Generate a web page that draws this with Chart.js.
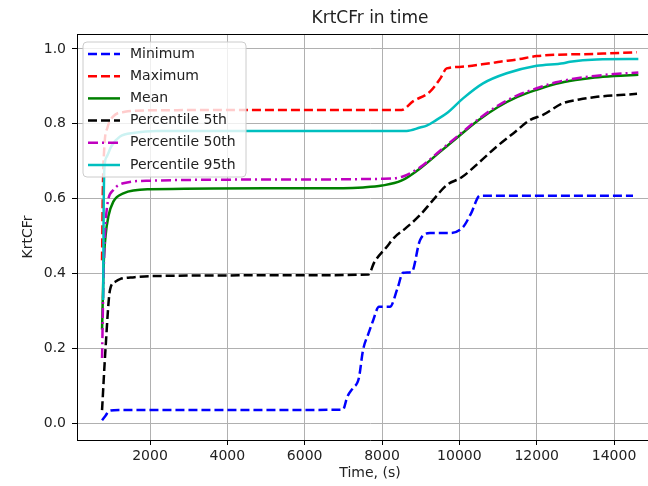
<!DOCTYPE html>
<html><head><meta charset="utf-8">
<script src="https://cdn.jsdelivr.net/npm/chart.js@4.4.1/dist/chart.umd.min.js"></script>
<style>
html,body{margin:0;padding:0;background:#fff;overflow:hidden}
#wrap{width:648px;height:486px;overflow:hidden;position:relative;background:#fff}
canvas{display:block}
</style></head><body>
<div id="wrap"><canvas id="c" width="670" height="486"></canvas></div>
<script>
// ---- data ----
const seriesNames = ['Minimum', 'Maximum', 'Mean', 'Percentile 5th', 'Percentile 50th', 'Percentile 95th'];

const minT = [760, 850, 950, 1200, 3000, 5000, 6990, 7100, 7242, 7400, 7508, 7650, 7758, 7922, 8206, 8400, 8543, 8767, 8982, 9241, 9758, 10095, 10300, 10534, 12000, 14490];
const minV = [0.008, 0.02, 0.033, 0.035, 0.035, 0.035, 0.036, 0.07, 0.093, 0.12, 0.195, 0.24, 0.271, 0.311, 0.311, 0.36, 0.402, 0.404, 0.489, 0.508, 0.508, 0.524, 0.56, 0.608, 0.608, 0.608];

const maxT = [760, 780, 820, 900, 1050, 1350, 2000, 5000, 8508, 8800, 9241, 9500, 9672, 10000, 10792, 11051, 11500, 12000, 13551, 14586];
const maxV = [0.435, 0.62, 0.74, 0.79, 0.82, 0.832, 0.836, 0.837, 0.837, 0.86, 0.886, 0.92, 0.948, 0.952, 0.962, 0.966, 0.972, 0.981, 0.987, 0.991];

const meanT = [760, 800, 850, 922, 1051, 1310, 2000, 5000, 7000, 7508, 8000, 8500, 9000, 9500, 10000, 10500, 11000, 11500, 12000, 12500, 13000, 13500, 14000, 14628];
const meanV = [0.25, 0.42, 0.50, 0.552, 0.592, 0.614, 0.625, 0.628, 0.628, 0.630, 0.635, 0.648, 0.682, 0.725, 0.768, 0.81, 0.845, 0.872, 0.891, 0.907, 0.917, 0.924, 0.928, 0.931];

const p5T = [760, 850, 965, 1100, 1224, 1600, 2000, 5000, 7646, 7800, 8120, 8336, 8600, 8982, 9318, 9670, 10060, 10534, 10965, 11400, 11827, 12163, 12680, 13100, 13560, 14594];
const p5V = [0.035, 0.20, 0.356, 0.378, 0.385, 0.390, 0.393, 0.395, 0.397, 0.43, 0.471, 0.498, 0.52, 0.556, 0.596, 0.636, 0.657, 0.699, 0.739, 0.775, 0.810, 0.824, 0.855, 0.865, 0.872, 0.880];

const p50T = [760, 800, 880, 1051, 1310, 2000, 5000, 8000, 8500, 9000, 9500, 10000, 10500, 11000, 11500, 12000, 12500, 13000, 13500, 14000, 14628];
const p50V = [0.174, 0.40, 0.57, 0.623, 0.641, 0.648, 0.651, 0.653, 0.658, 0.685, 0.728, 0.771, 0.813, 0.849, 0.876, 0.895, 0.911, 0.921, 0.928, 0.933, 0.937];

const p95T = [790, 800, 820, 880, 1000, 1224, 1600, 2172, 5000, 8637, 8982, 9154, 9400, 9672, 10095, 10612, 11224, 12000, 12689, 12862, 13551, 14628];
const p95V = [0.329, 0.55, 0.68, 0.712, 0.74, 0.766, 0.776, 0.781, 0.781, 0.781, 0.79, 0.795, 0.81, 0.828, 0.868, 0.908, 0.935, 0.955, 0.962, 0.966, 0.972, 0.973];

const xTickValues = [2000, 4000, 6000, 8000, 10000, 12000, 14000];
const xTickLabels = ['2000', '4000', '6000', '8000', '10000', '12000', '14000'];
const yTickValues = [0.0, 0.2, 0.4, 0.6, 0.8, 1.0];
const yTickLabels = ['0.0', '0.2', '0.4', '0.6', '0.8', '1.0'];

// ---- styles ----
const seriesTimes = [minT, maxT, meanT, p5T, p50T, p95T];
const seriesValues = [minV, maxV, meanV, p5V, p50V, p95V];
const colors = ['#0000ff', '#ff0000', '#008000', '#000000', '#bf00bf', '#00bfbf'];
const dashes = [[9, 4], [9, 4], [], [9, 4], [10, 4, 2, 4], []];
const LW = 2.5;
const FONT = 'DejaVu Sans';

const datasets = seriesNames.map((name, i) => ({
  label: name,
  data: seriesTimes[i].map((t, k) => ({x: t, y: seriesValues[i][k]})),
  borderColor: colors[i],
  backgroundColor: colors[i],
  borderWidth: LW,
  borderDash: dashes[i],
  borderCapStyle: 'butt',
  borderJoinStyle: 'round',
  pointRadius: 0,
  fill: false,
  cubicInterpolationMode: 'monotone',
  order: seriesNames.length - i
}));

const mplLegend = {
  id: 'mplLegend',
  afterDatasetsDraw(chart) {
    const ctx = chart.ctx, a = chart.chartArea;
    ctx.save();
    // top spine
    ctx.strokeStyle = '#000'; ctx.lineWidth = 1; ctx.setLineDash([]);
    ctx.beginPath(); ctx.moveTo(a.left, a.top + 0.5); ctx.lineTo(a.right, a.top + 0.5); ctx.stroke();
    // legend box
    const bx = a.left + 6, by = a.top + 8, bw = 163, bh = 135, r = 4;
    ctx.beginPath();
    ctx.moveTo(bx + r, by);
    ctx.arcTo(bx + bw, by, bx + bw, by + bh, r);
    ctx.arcTo(bx + bw, by + bh, bx, by + bh, r);
    ctx.arcTo(bx, by + bh, bx, by, r);
    ctx.arcTo(bx, by, bx + bw, by, r);
    ctx.closePath();
    ctx.fillStyle = 'rgba(255,255,255,0.8)';
    ctx.fill();
    ctx.strokeStyle = '#cccccc'; ctx.lineWidth = 1;
    ctx.stroke();
    ctx.font = '14px "' + FONT + '"';
    ctx.textBaseline = 'middle';
    chart.data.datasets.forEach((ds, i) => {
      const yy = by + 12 + i * 22.2;
      ctx.strokeStyle = ds.borderColor;
      ctx.lineWidth = LW;
      ctx.lineCap = 'butt';
      ctx.setLineDash(ds.borderDash || []);
      ctx.beginPath(); ctx.moveTo(bx + 5, yy); ctx.lineTo(bx + 37, yy); ctx.stroke();
      ctx.setLineDash([]);
      ctx.fillStyle = '#222';
      ctx.fillText(ds.label, bx + 47, yy);
    });
    ctx.restore();
  }
};

new Chart(document.getElementById('c'), {
  type: 'line',
  data: {datasets},
  plugins: [mplLegend],
  options: {
    responsive: false,
    animation: false,
    devicePixelRatio: 1,
    layout: {padding: {left: 0, right: 7, top: 0, bottom: 0}},
    plugins: {
      legend: {display: false},
      tooltip: {enabled: false},
      title: {
        display: true, text: 'KrtCFr in time', fullSize: false,
        color: '#222', font: {family: FONT, size: 17, weight: 'normal'},
        padding: {top: 8, bottom: 5.6}
      }
    },
    scales: {
      x: {
        type: 'linear', min: 112, max: 15266,
        afterBuildTicks: s => { s.ticks = xTickValues.map(v => ({value: v})); },
        afterFit: s => { s.height = 46; },
        grid: {color: '#b0b0b0', lineWidth: 1, drawTicks: true, tickLength: 5, tickColor: '#000', tickWidth: 1},
        border: {display: true, color: '#000', width: 1},
        ticks: {
          color: '#222', font: {family: FONT, size: 14}, padding: 3, maxRotation: 0, autoSkip: false,
          callback: (v) => { const k = xTickValues.indexOf(v); return k >= 0 ? xTickLabels[k] : ''; }
        },
        title: {display: true, text: 'Time, (s)', color: '#222', font: {family: FONT, size: 14}, padding: {top: 2, bottom: 4}}
      },
      y: {
        type: 'linear', min: -0.045, max: 1.040,
        afterBuildTicks: s => { s.ticks = yTickValues.map(v => ({value: v})); },
        afterFit: s => { s.width = 77; },
        grid: {color: '#b0b0b0', lineWidth: 1, drawTicks: true, tickLength: 5, tickColor: '#000', tickWidth: 1},
        border: {display: true, color: '#000', width: 1},
        ticks: {
          color: '#222', font: {family: FONT, size: 14}, padding: 6, autoSkip: false,
          callback: (v) => { const k = yTickValues.indexOf(v); return k >= 0 ? yTickLabels[k] : ''; }
        },
        title: {display: true, text: 'KrtCFr', color: '#222', font: {family: FONT, size: 14}, padding: {top: 20, bottom: 2}}
      }
    }
  }
});
</script>
</body></html>
